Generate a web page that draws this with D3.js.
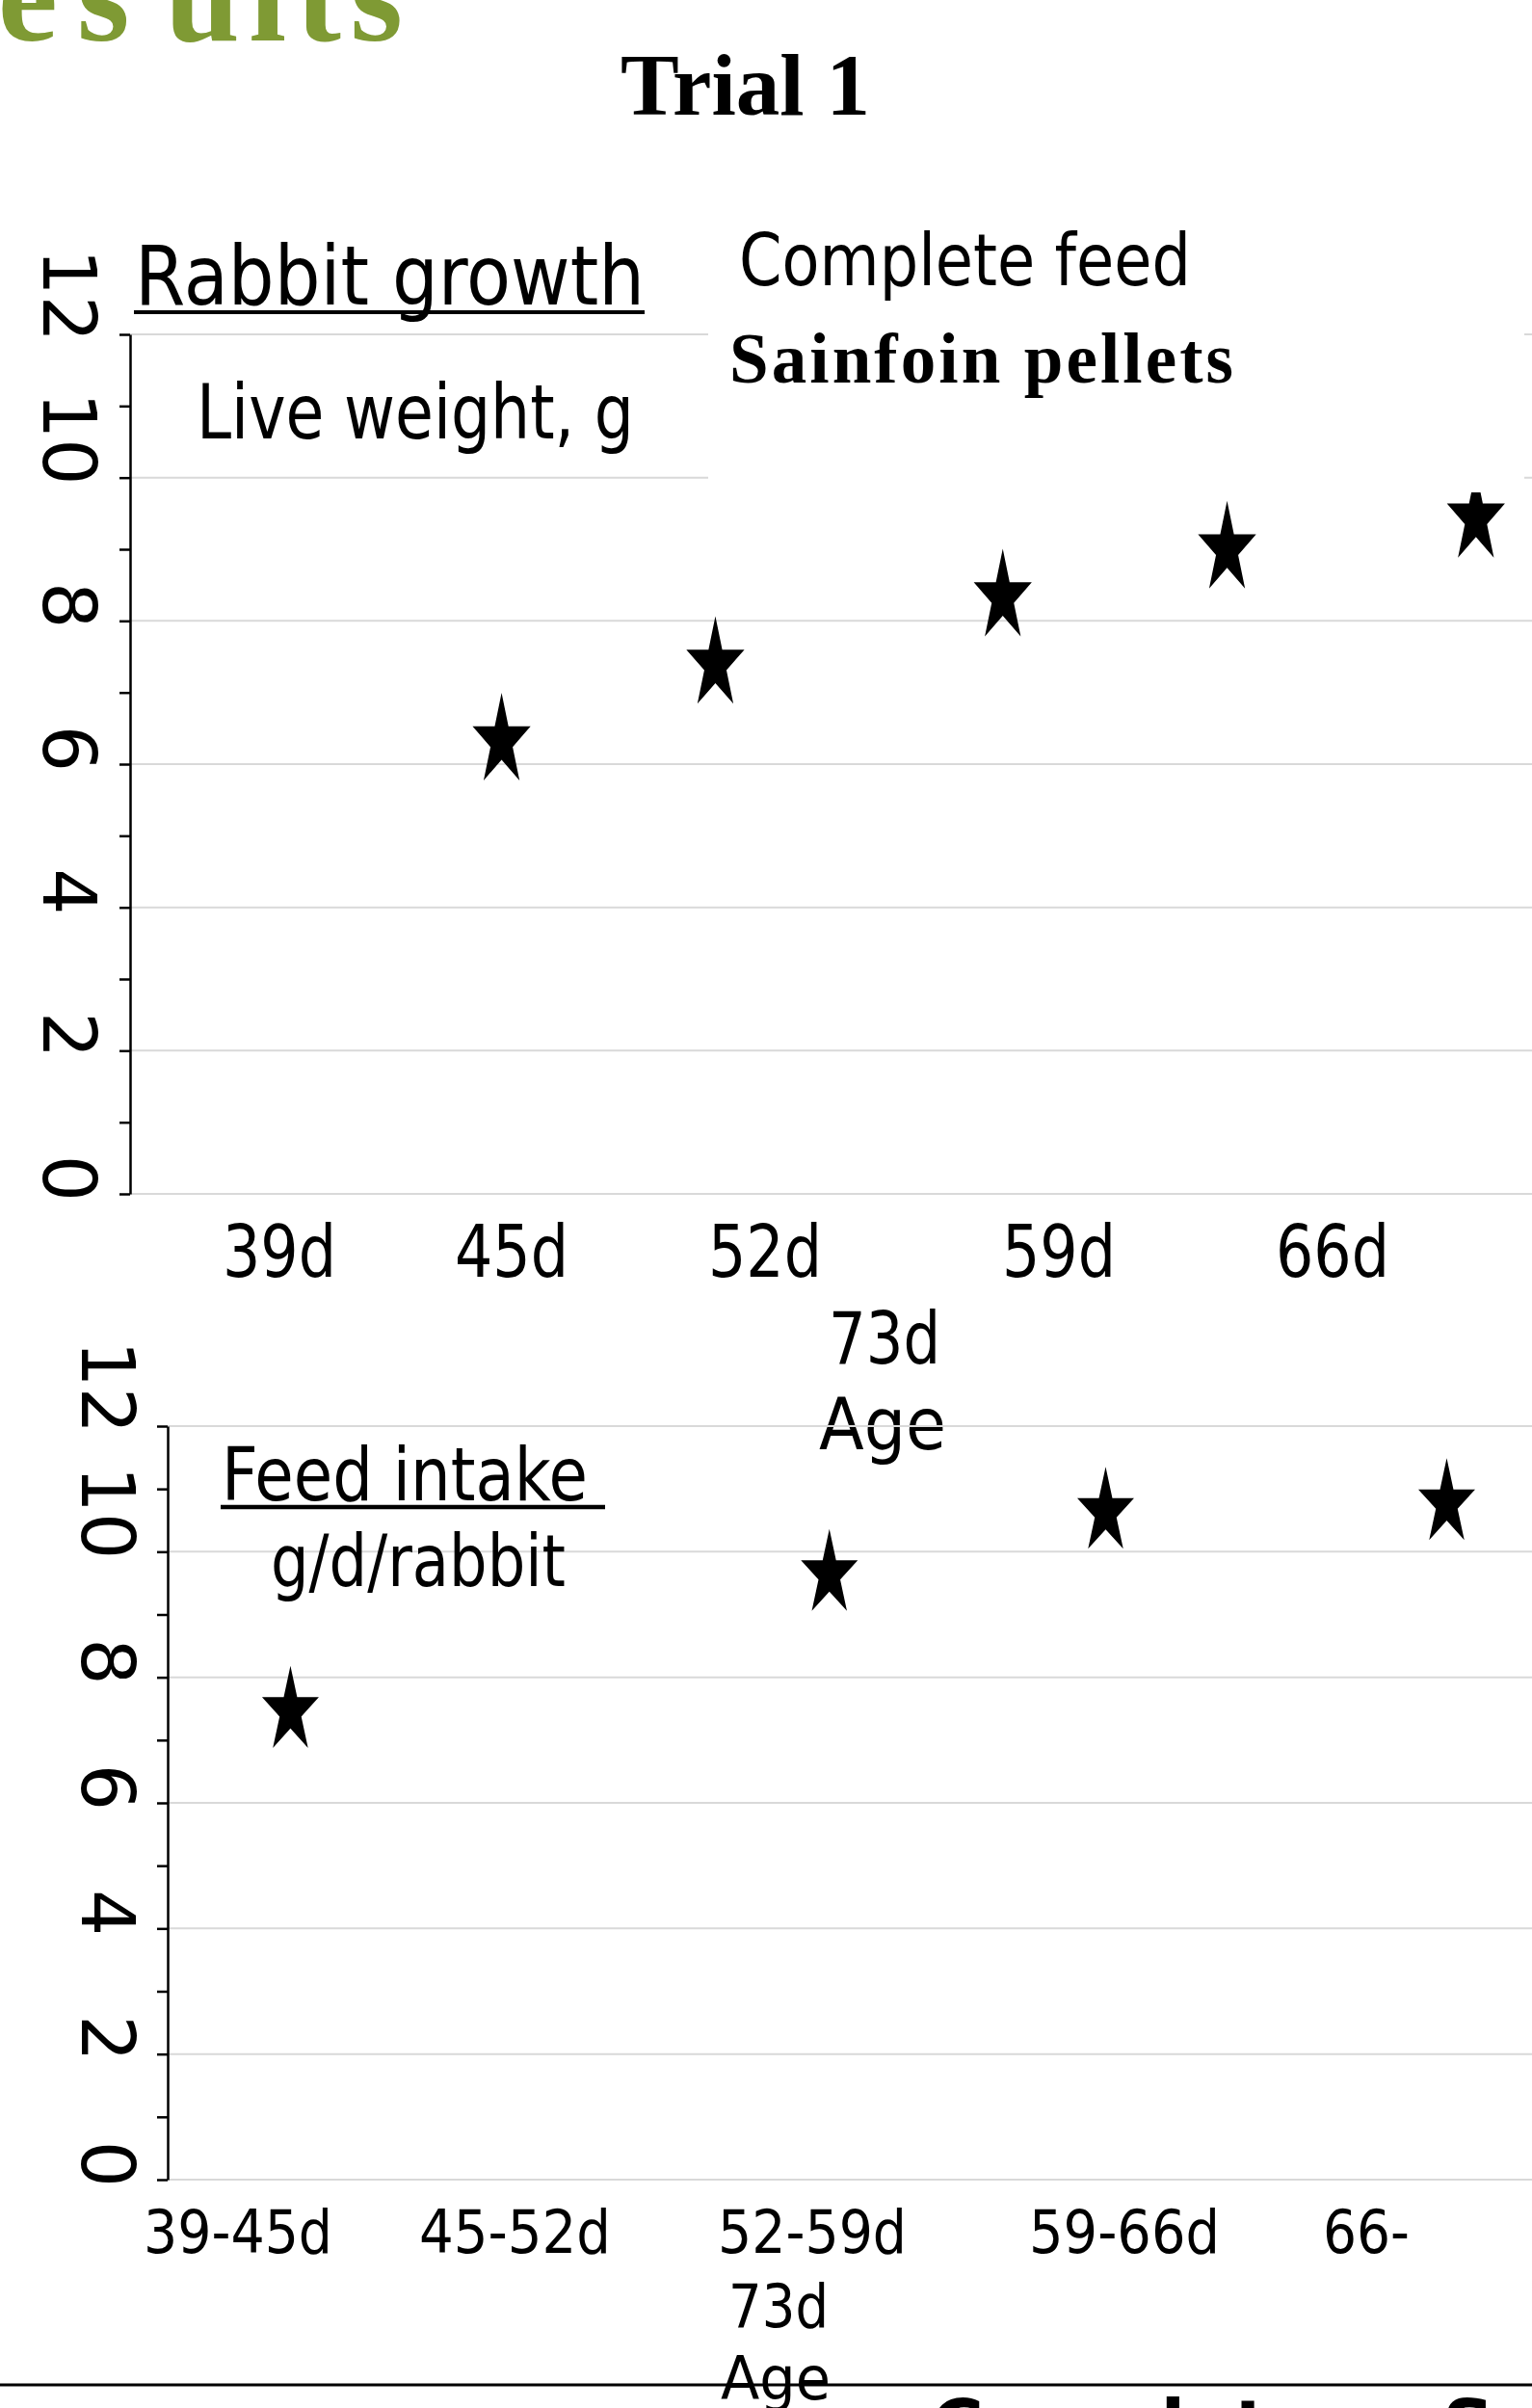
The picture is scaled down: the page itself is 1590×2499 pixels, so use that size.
<!DOCTYPE html>
<html><head><meta charset="utf-8">
<script src="https://cdn.jsdelivr.net/npm/d3@7"></script>
<style>html,body{margin:0;padding:0;background:#fff;} svg{display:block;}</style>
</head><body>
<svg id="chart" width="1590" height="2499"></svg>
<script>
// ---------- data ----------
const growthAges    = [45.6, 51.7, 59.9, 66.3, 73.4];   // plotted age position, d
const growthWeights = [6.32, 7.39, 8.33, 9.00, 9.43];   // live weight
const intakeAges    = [38.6, 54.4, 62.5, 72.5];         // plotted age position, d
const intakeValues  = [7.46, 9.64, 10.63, 10.77];       // feed intake g/d/rabbit
const yTickValues   = [0, 2, 4, 6, 8, 10, 12];
const yMinorValues  = d3.range(0, 13);
const growthAgeLabels = ["39d", "45d", "52d", "59d", "66d"];
const intakeAgeLabels = ["39-45d", "45-52d", "52-59d", "59-66d", "66-"];

const svg = d3.select("#chart");
const SANS = "'DejaVu Sans', Verdana, sans-serif";
const SERIF = "'Liberation Serif', 'Times New Roman', serif";

function txt(g, s, x, y, o) {
  const t = g.append("text").attr("x", x).attr("y", y).text(s)
    .attr("font-family", o.family || SANS)
    .attr("font-size", o.size)
    .attr("font-weight", o.weight || "normal")
    .attr("fill", o.fill || "#000");
  if (o.len) t.attr("textLength", o.len).attr("lengthAdjust", o.adjust || "spacingAndGlyphs");
  if (o.anchor) t.attr("text-anchor", o.anchor);
  return t;
}

// ---------- header ----------
const green = "#7F9A34";
txt(svg, "Re", 60, 42, {family: SERIF, size: 140, weight: "bold", fill: green, anchor: "end"});
txt(svg, "s", 80, 42, {family: SERIF, size: 140, weight: "bold", fill: green});
txt(svg, "ults", 171, 42, {family: SERIF, size: 140, weight: "bold", fill: green, len: 247, adjust: "spacing"});
txt(svg, "Trial 1", 644, 119, {family: SERIF, size: 92, weight: "bold", len: 259});

// ---------- chart builder ----------
function drawChart(cfg) {
  const g = svg.append("g");
  const x = d3.scaleLinear().domain([35, 75]).range([cfg.left, 1590]);
  const y = d3.scaleLinear().domain([0, 12]).range([cfg.bottom, cfg.top]);

  // gridlines
  g.append("g").selectAll("line").data(yTickValues).join("line")
    .attr("x1", cfg.left).attr("x2", 1590)
    .attr("y1", d => y(d)).attr("y2", d => y(d))
    .attr("stroke", "#d9d9d9").attr("stroke-width", 2);

  // axis with minor ticks
  const ax = g.append("g").attr("transform", `translate(${cfg.left},0)`)
    .call(d3.axisLeft(y).tickValues(yMinorValues).tickSize(11).tickSizeOuter(0).tickFormat(""));
  ax.select(".domain").attr("stroke", "#000").attr("stroke-width", 2.5);
  ax.selectAll(".tick line").attr("stroke", "#000").attr("stroke-width", 2.5);

  // rotated tick labels
  g.append("g").selectAll("text").data(yTickValues).join("text")
    .attr("transform", d => `translate(${cfg.labelX},${y(d) + 8}) rotate(90)`)
    .attr("text-anchor", "end")
    .attr("font-family", SANS).attr("font-size", 76).attr("fill", "#000")
    .text(d => d);

  // star markers
  const star = d3.symbol().type(d3.symbolStar).size(cfg.starSize);
  g.append("g").selectAll("path").data(cfg.xs.map((v, i) => [v, cfg.ys[i]])).join("path")
    .attr("transform", d => `translate(${x(d[0])},${y(d[1])}) scale(${cfg.starSx},1)`)
    .attr("d", star()).attr("fill", "#000");
  return {g, x, y};
}

// ---------- top chart: Rabbit growth ----------
const growthChart = drawChart({left: 135, top: 347, bottom: 1239, labelX: 45,
  xs: growthAges, ys: growthWeights, starSize: 2840, starSx: 0.63});

// legend box (covers gridlines and last star)
growthChart.g.append("rect").attr("x", 735).attr("y", 330).attr("width", 847).attr("height", 181).attr("fill", "#fff");
txt(growthChart.g, "Complete feed", 767, 296, {size: 74, len: 469});
txt(growthChart.g, "Sainfoin pellets", 757, 397, {family: SERIF, size: 73, weight: "bold", len: 523, adjust: "spacing"});

txt(growthChart.g, "Rabbit growth", 140, 316, {size: 85, len: 529});
growthChart.g.append("line").attr("x1", 139).attr("x2", 669).attr("y1", 324).attr("y2", 324)
  .attr("stroke", "#000").attr("stroke-width", 4);
txt(growthChart.g, "Live weight, g", 204, 455, {size: 78, len: 454});

const topLabelLeft = [231, 472, 735, 1040, 1324];
growthAgeLabels.forEach((s, i) => txt(growthChart.g, s, topLabelLeft[i], 1325, {size: 75, len: 118}));
txt(growthChart.g, "73d", 860, 1415, {size: 75, len: 116});
txt(growthChart.g, "Age", 850, 1504, {size: 75, len: 132});

// ---------- bottom chart: Feed intake ----------
const intakeChart = drawChart({left: 174, top: 1480, bottom: 2262, labelX: 85,
  xs: intakeAges, ys: intakeValues, starSize: 2480, starSx: 0.66});

txt(intakeChart.g, "Feed intake", 230, 1557, {size: 77, len: 380});
intakeChart.g.append("line").attr("x1", 229).attr("x2", 628).attr("y1", 1564).attr("y2", 1564)
  .attr("stroke", "#000").attr("stroke-width", 4.5);
txt(intakeChart.g, "g/d/rabbit", 281, 1646, {size: 75, len: 306});

const botLabelLeft = [149, 435, 745, 1068, 1373];
const botLabelLen = [196, 199, 196, 198, 90];
intakeAgeLabels.forEach((s, i) => txt(intakeChart.g, s, botLabelLeft[i], 2338, {size: 63, len: botLabelLen[i]}));
txt(intakeChart.g, "73d", 756, 2415, {size: 63, len: 104});
txt(intakeChart.g, "Age", 748, 2490, {size: 63, len: 114});

// ---------- bottom rule and cut-off next labels ----------
svg.append("line").attr("x1", 0).attr("x2", 1590).attr("y1", 2475).attr("y2", 2475)
  .attr("stroke", "#000").attr("stroke-width", 3);
txt(svg, "Complete", 966, 2544, {size: 75, weight: "bold"});
txt(svg, "Sainfoin", 1497, 2544, {size: 75, weight: "bold"});
</script>
</body></html>
